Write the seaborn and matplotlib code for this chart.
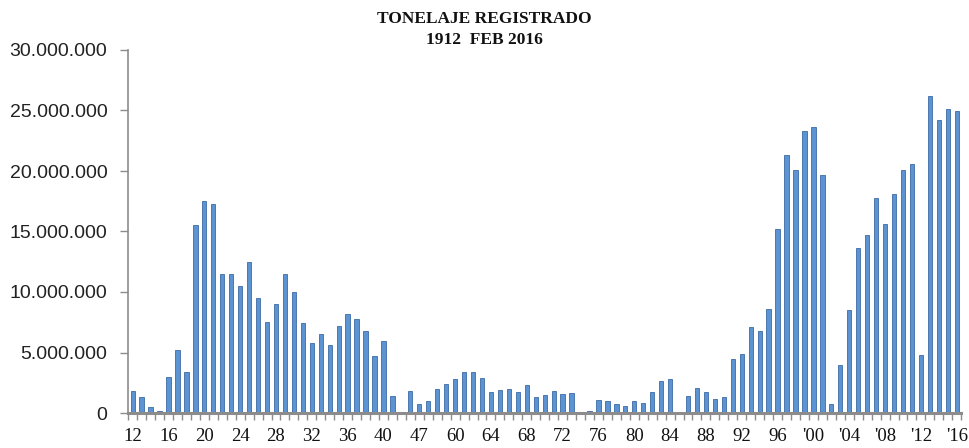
import matplotlib
matplotlib.use("Agg")
import matplotlib.pyplot as plt
import seaborn as sns
import pandas as pd
from matplotlib.ticker import FuncFormatter, FixedLocator

# Categories (years with records)
years = ([str(y) for y in range(1912, 1942)] + ["1945", "1946", "1947", "1950", "1955", "1959"]
         + [str(y) for y in range(1960, 2017)])

# Registered tonnage per year
tonnage = [
    1.84e6, 1.35e6, 0.50e6, 0.15e6, 3.00e6, 5.20e6, 3.40e6, 15.5e6, 17.56e6, 17.3e6,
    11.5e6, 11.5e6, 10.5e6, 12.5e6, 9.5e6, 7.5e6, 9.0e6, 11.5e6, 10.0e6, 7.4e6,
    5.75e6, 6.5e6, 5.66e6, 7.2e6, 8.2e6, 7.75e6, 6.8e6, 4.7e6, 5.96e6, 1.4e6,
    0.0, 1.8e6, 0.74e6, 0.99e6, 2.0e6, 2.4e6, 2.8e6, 3.4e6, 3.4e6, 2.9e6,
    1.76e6, 1.9e6, 1.95e6, 1.7e6, 2.33e6, 1.35e6, 1.46e6, 1.84e6, 1.57e6, 1.68e6,
    0.0, 0.15e6, 1.07e6, 0.99e6, 0.72e6, 0.58e6, 1.0e6, 0.8e6, 1.76e6, 2.66e6,
    2.78e6, 0.0, 1.4e6, 2.03e6, 1.7e6, 1.18e6, 1.29e6, 4.5e6, 4.9e6, 7.1e6,
    6.76e6, 8.6e6, 15.17e6, 21.3e6, 20.1e6, 23.3e6, 23.66e6, 19.7e6, 0.74e6, 3.93e6,
    8.55e6, 13.6e6, 14.75e6, 17.8e6, 15.6e6, 18.1e6, 20.06e6, 20.6e6, 4.78e6, 26.16e6,
    24.2e6, 25.1e6, 24.98e6,
]

# Tick labels shown every fourth category
tick_labels = ["12", "16", "20", "24", "28", "32", "36", "40", "47", "60", "64", "68",
               "72", "76", "80", "84", "88", "92", "96", "'00", "'04", "'08", "'12", "'16"]

title_lines = ["TONELAJE REGISTRADO", "1912  FEB 2016"]

df = pd.DataFrame({"year": years, "tonnage": tonnage})

sns.set_theme(style="white")
plt.rcParams["font.family"] = ["Liberation Sans", "DejaVu Sans"]

fig = plt.figure(figsize=(9.69, 4.48), dpi=100)
ax = fig.add_axes([128.2 / 969, 35 / 448, 833 / 969, 363 / 448])

sns.barplot(data=df, x="year", y="tonnage", order=years, color="#5B93D3",
            width=0.48, saturation=1, edgecolor="#3E6BA6", linewidth=0.6, ax=ax)

ax.set_ylim(0, 30e6)
ax.set_xlim(-0.5, len(years) - 0.5)
ax.set_xlabel("")
ax.set_ylabel("")

ax.yaxis.set_major_locator(FixedLocator([0, 5e6, 10e6, 15e6, 20e6, 25e6, 30e6]))
ax.yaxis.set_major_formatter(FuncFormatter(lambda v, p: f"{int(v):,}".replace(",", ".")))
ax.tick_params(axis="y", which="major", direction="out", length=6, width=1,
               color="#8c8c8c", pad=9, labelsize=14, labelcolor="#222222", left=True)

major_pos = list(range(0, len(years), 4))
ax.set_xticks(major_pos)
ax.set_xticklabels(tick_labels, fontfamily=["Liberation Serif", "DejaVu Serif"],
                   fontsize=13.5, color="#111111")
ax.xaxis.set_minor_locator(FixedLocator([i - 0.5 for i in range(len(years) + 1)]))
ax.tick_params(axis="x", which="major", length=0, pad=10.5, bottom=True)
ax.tick_params(axis="x", which="minor", direction="out", length=5, width=1,
               color="#8c8c8c", bottom=True)

for side in ["top", "right"]:
    ax.spines[side].set_visible(False)
ax.spines["left"].set_color("#8c8c8c")
ax.spines["left"].set_linewidth(1.2)
ax.spines["bottom"].set_color("#8c8c8c")
ax.spines["bottom"].set_linewidth(2.2)

fig.text(0.5, 1 - 19 / 448, title_lines[0], ha="center", va="center",
         fontfamily=["Liberation Serif", "DejaVu Serif"], fontweight="bold",
         fontsize=12.5, color="#111111")
fig.text(0.5, 1 - 40 / 448, title_lines[1], ha="center", va="center",
         fontfamily=["Liberation Serif", "DejaVu Serif"], fontweight="bold",
         fontsize=12.5, color="#111111")

fig.savefig("out.png", dpi=100, facecolor="white")
